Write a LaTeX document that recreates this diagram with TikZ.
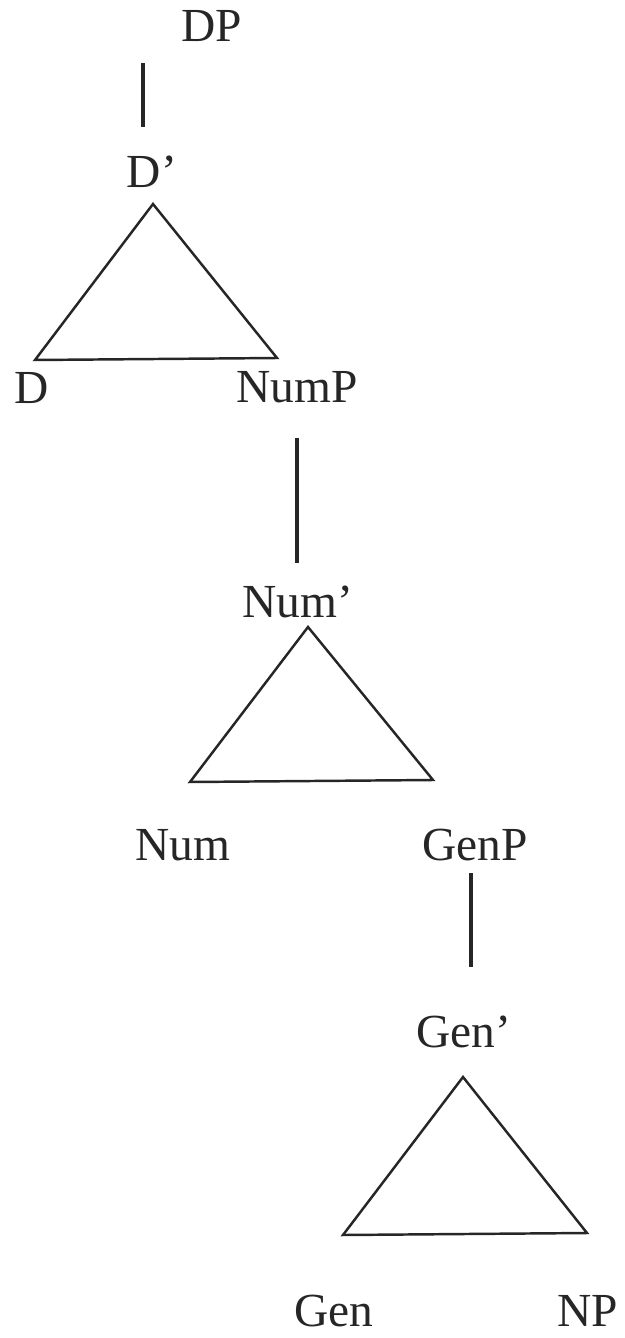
\documentclass[tikz,border=0pt]{standalone}
\usepackage{fontspec}
\setmainfont{Liberation Serif}
\usepackage{tikz}
\usetikzlibrary{positioning}
\usepackage{xcolor}
\definecolor{InkGray}{HTML}{262626}

\begin{document}
\begin{tikzpicture}[
				x=0.02cm, y=-0.02cm,
				label/.style={inner sep=0pt, anchor=base, text=InkGray,
					font=\fontsize{27}{30}\selectfont},
				tri/.style={draw=InkGray, line width=1.4pt, line join=miter},
				stem/.style={draw=InkGray, line width=1.8pt}
				]
				\useasboundingbox (0,0) rectangle (625,1338);
				% labels
				\node[label] (dp) at (212,42) {DP};
				\node[label] (dbar) at (152,188) {D’};
				\node[label] (d) at (32,403) {D};
				\node[label] (nump) at (297,402) {NumP};
				\node[label] (numbar) at (298,617) {Num’};
				\node[label] (num) at (183,860) {Num};
				\node[label] (genp) at (475,860) {GenP};
				\node[label] (genbar) at (464,1047) {Gen’};
				\node[label] (gen) at (334,1326) {Gen};
				\node[label] (np) at (588,1326) {NP};
				% stems
				\coordinate (s1a) at (143,63);
				\coordinate (s1b) at (143,127);
				\coordinate (s2a) at (297,438);
				\coordinate (s2b) at (297,563);
				\coordinate (s3a) at (471,873);
				\coordinate (s3b) at (471,967);
				\draw[stem] (s1a) -- (s1b);
				\draw[stem] (s2a) -- (s2b);
				\draw[stem] (s3a) -- (s3b);
				% triangles
				\coordinate (t1) at (153,204);
				\coordinate (t1l) at (35,360);
				\coordinate (t1r) at (277,358);
				\coordinate (t2) at (308,627);
				\coordinate (t2l) at (190,782);
				\coordinate (t2r) at (433,780);
				\coordinate (t3) at (463,1077);
				\coordinate (t3l) at (343,1235);
				\coordinate (t3r) at (587,1233);
				\draw[tri] (t1) -- (t1l) -- (t1r) -- cycle;
				\draw[tri] (t2) -- (t2l) -- (t2r) -- cycle;
				\draw[tri] (t3) -- (t3l) -- (t3r) -- cycle;
			\end{tikzpicture}
\end{document}
